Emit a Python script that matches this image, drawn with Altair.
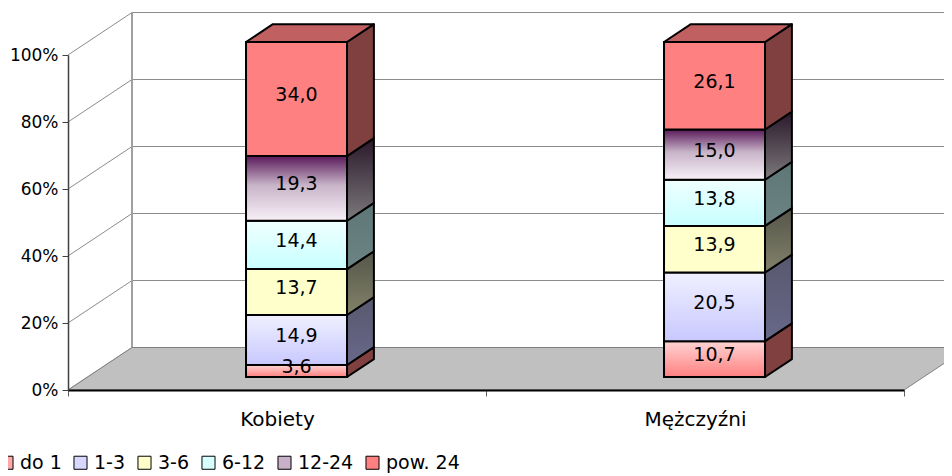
import json
import altair as alt
import pandas as pd

# ---------------- data ----------------
categories = ["Kobiety", "Mężczyźni"]
series = ["do 1", "1-3", "3-6", "6-12", "12-24", "pow. 24"]
kobiety = [3.6, 14.9, 13.7, 14.4, 19.3, 34.0]
mezczyzni = [10.7, 20.5, 13.9, 13.8, 15.0, 26.1]
y_ticks = [0, 20, 40, 60, 80, 100]

# ---------------- style ----------------
FONT = "DejaVu Sans"
W, H = 836, 335
WALL_DX, WALL_DY = 64, 42.5        # depth of the 3D box, px
BAR_W = 101                        # bar width, px
FRONT_T, DEPTH_T = 0.305, 0.42     # bar position / depth as fraction of box depth

legend_colors = ["#FFA8A8", "#D8D8FF", "#FFFFCC", "#D8FFFF", "#C8B0C8", "#FF8080"]


def vgrad(*stops):
    return alt.Gradient(gradient="linear", x1=0, y1=0, x2=0, y2=1,
                        stops=[alt.GradientStop(offset=o, color=c) for o, c in stops])


front_fill = {
    "do 1": vgrad((0, "#FFD4D4"), (1, "#FF8080")),
    "1-3": vgrad((0, "#F0F0FF"), (1, "#C8C8FF")),
    "3-6": "#FFFFCC",
    "6-12": vgrad((0, "#F0FFFF"), (1, "#C8FFFF")),
    "12-24": vgrad((0, "#5A1A5A"), (0.45, "#C8B4C8"), (1, "#F8F0F8")),
    "pow. 24": "#FF8080",
}
side_fill = {
    "do 1": "#804040",
    "1-3": vgrad((0, "#58586E"), (1, "#68688A")),
    "3-6": vgrad((0, "#55554A"), (1, "#82826A")),
    "6-12": vgrad((0, "#5E7676"), (1, "#6C8484")),
    "12-24": vgrad((0, "#2A182A"), (1, "#7C7A7C")),
    "pow. 24": "#804040",
}
top_fill = "#C06060"

ux = 2 / W
uy = 100 / H
bx, by = WALL_DX * ux, WALL_DY * uy
dbx, dby = DEPTH_T * bx, DEPTH_T * by
bw = BAR_W * ux

xscale = alt.Scale(domain=[0, 2], nice=False, zero=False)
yscale = alt.Scale(domain=[0, 100], nice=False, zero=False)


def X(f, **kw):
    return alt.X(f, scale=xscale, **kw)


def Y(f, **kw):
    return alt.Y(f, scale=yscale, **kw)


# ---------------- tables ----------------
seg_rows, side_rows, top_rows = [], [], []
for i, (cat, vals) in enumerate(zip(categories, [kobiety, mezczyzni])):
    total = sum(vals)
    cum = 0.0
    cx = i + 0.5 + FRONT_T * bx
    off = FRONT_T * by
    for s, (name, v) in enumerate(zip(series, vals)):
        y0 = cum / total * 100 + off
        cum += v
        y1 = cum / total * 100 + off
        sid = f"{i}-{s}"
        seg_rows.append(dict(cat=cat, series=name, value=v,
                             label=f"{v:.1f}".replace(".", ","),
                             x0=cx - bw / 2, x1=cx + bw / 2, xc=cx,
                             y0=y0, y1=y1, ym=(y0 + y1) / 2, id=sid))
        side_rows.append(dict(id=sid, series=name, sx=cx + bw / 2, sy0=y0, sy1=y1))
        side_rows.append(dict(id=sid, series=name, sx=cx + bw / 2 + dbx,
                              sy0=y0 + dby, sy1=y1 + dby))
        if s == len(series) - 1:
            top_rows.append(dict(id=sid, ty=y1, tx0=cx - bw / 2, tx1=cx + bw / 2))
            top_rows.append(dict(id=sid, ty=y1 + dby, tx0=cx - bw / 2 + dbx,
                                 tx1=cx + bw / 2 + dbx))

seg = pd.DataFrame(seg_rows)
side = pd.DataFrame(side_rows)
top = pd.DataFrame(top_rows)
grid = pd.DataFrame({"v": y_ticks})
grid["gy"] = grid["v"] + by
grid["gx0"] = bx
grid["gx1"] = 2 + bx
grid["lx0"] = 0.0
floor = pd.DataFrame({"fy": [0.0, by], "fa": [0.0, bx], "fb": [2.0, 2 + bx]})
wall = pd.DataFrame({"wx": [bx], "wy0": [by], "wy1": [100 + by]})

# ---------------- layers ----------------
back_grid = alt.Chart(grid).mark_rule(color="#8C8C8C", strokeWidth=1).encode(
    x=X("gx0:Q", axis=None), x2="gx1:Q", y=Y("gy:Q", axis=None))
left_diag = alt.Chart(grid).mark_rule(color="#8C8C8C", strokeWidth=1).encode(
    x=X("lx0:Q", axis=None), x2="gx0:Q", y=Y("v:Q", axis=None), y2="gy:Q")
left_wall = alt.Chart(wall).mark_rule(color="#A0A0A0", strokeWidth=2).encode(
    x=X("wx:Q", axis=None), y=Y("wy0:Q", axis=None), y2="wy1:Q")
floor_l = alt.Chart(floor).mark_area(orient="horizontal", color="#C0C0C0",
                                     stroke="#808080", strokeWidth=1, opacity=1).encode(
    y=Y("fy:Q", axis=None), x=X("fa:Q", axis=None, stack=False), x2="fb:Q")

xlabel_expr = ("datum.value % 1 ? " + json.dumps(categories, ensure_ascii=False)
               + "[floor(datum.value)] : ''")

front_base = alt.Chart(seg).mark_rect(stroke="black", strokeWidth=2).encode(
    x=X("x0:Q", axis=alt.Axis(orient="bottom", values=[0, 0.5, 1, 1.5, 2],
                              labelExpr=xlabel_expr,
                              title=None, tickSize=6, tickColor="#606060",
                              tickOpacity={"condition": {"test": "datum.value % 1 !== 0",
                                                         "value": 0}, "value": 1},
                              domainColor="black", domainWidth=2, grid=False,
                              labelFont=FONT, labelFontSize=20, labelColor="black",
                              labelPadding=13, labelOverlap=False, labelFlush=False,
                              zindex=1)),
    x2="x1:Q",
    y=Y("y0:Q", axis=alt.Axis(orient="left", values=y_ticks,
                              labelExpr="datum.value + '%'",
                              title=None, tickSize=6, tickColor="#404040",
                              domainColor="#404040", domainWidth=1.5, grid=False,
                              labelFont=FONT, labelFontSize=17, labelColor="black",
                              labelPadding=4, labelOverlap=False, zindex=1)),
    y2="y1:Q",
    color=alt.Color("series:N", scale=alt.Scale(domain=series, range=legend_colors),
                    sort=series,
                    legend=alt.Legend(orient="none", legendX=-71, legendY=398,
                                      direction="horizontal", columns=6, title=None,
                                      symbolType="square", symbolSize=170,
                                      symbolStrokeColor="black", symbolStrokeWidth=1,
                                      symbolOpacity=1, labelFont=FONT, labelFontSize=19,
                                      labelColor="black", columnPadding=9,
                                      labelOffset=4, padding=0)),
)

layers = [back_grid, left_diag, left_wall, floor_l, front_base]

for name in series:
    layers.append(
        alt.Chart(seg).transform_filter(alt.datum.series == name)
        .mark_rect(fill=front_fill[name], stroke="black", strokeWidth=2)
        .encode(x=X("x0:Q", axis=None), x2="x1:Q", y=Y("y0:Q", axis=None), y2="y1:Q"))
    layers.append(
        alt.Chart(side).transform_filter(alt.datum.series == name)
        .mark_area(orient="vertical", fill=side_fill[name], stroke="black",
                   strokeWidth=2, opacity=1, strokeJoin="round")
        .encode(x=X("sx:Q", axis=None), y=Y("sy0:Q", axis=None, stack=False),
                y2="sy1:Q", detail="id:N"))

top_l = alt.Chart(top).mark_area(orient="horizontal", fill=top_fill, stroke="black",
                                 strokeWidth=2, opacity=1, strokeJoin="round").encode(
    y=Y("ty:Q", axis=None), x=X("tx0:Q", axis=None, stack=False), x2="tx1:Q",
    detail="id:N")

labels = alt.Chart(seg).mark_text(font=FONT, fontSize=19, color="black",
                                  baseline="middle", align="center", dy=-4).encode(
    x=X("xc:Q", axis=None), y=Y("ym:Q", axis=None), text="label:N")

layers += [top_l, labels]

chart = alt.layer(*layers).resolve_axis(x="independent", y="independent").properties(
    width=W, height=H,
    autosize=alt.AutoSizeParams(type="none"),
    padding={"left": 60, "top": 47, "right": 40, "bottom": 88},
).configure_view(strokeWidth=0)

chart.save("out.html", embed_options={"renderer": "svg", "actions": False})
